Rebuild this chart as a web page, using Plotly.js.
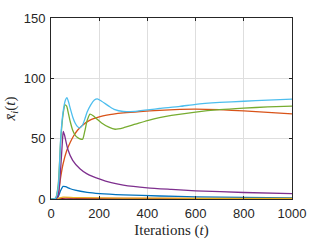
<!DOCTYPE html>
<html><head><meta charset="utf-8">
<script src="https://cdn.plot.ly/plotly-3.0.1.min.js"></script>
<style>html,body{margin:0;padding:0;background:#fff}#plot{width:320px;height:241px}</style>
</head><body><div id="plot"></div>
<script>
var tBlue = [0, 20, 30, 40, 50, 60, 80, 100, 150, 203, 300, 452, 600, 800, 1000];
var yBlue = [0, 0, 2, 7, 10.5, 10.2, 8.5, 7.3, 5.5, 4.5, 3.5, 2.5, 1.8, 1.3, 1.0];

var tOrange = [0, 10, 20, 30, 40, 50, 65, 80, 93, 110, 130, 162, 200, 231, 300, 369, 450, 535, 600, 700, 800, 900, 1000];
var yOrange = [0, 0, 0.5, 4, 18, 29, 40, 47, 52, 57, 61, 65.3, 68, 69.5, 71.3, 72.5, 73.5, 74.3, 74.5, 74, 73, 71.8, 70.6];

var tYellow = [0, 30, 50, 100, 300, 600, 1000];
var yYellow = [0, 0.5, 1.5, 1.2, 0.8, 0.6, 0.4];

var tPurple = [0, 20, 30, 40, 48, 51, 56, 70, 90, 120, 148, 203, 250, 300, 400, 500, 600, 800, 1000];
var yPurple = [0, 0, 3, 25, 50, 56, 53, 41, 32, 25, 21, 16.4, 13.5, 11.5, 9.3, 8, 6.8, 5.4, 4.5];

var tGreen = [0, 10, 20, 30, 40, 50, 58, 65, 70, 80, 90, 100, 110, 120, 131, 140, 150, 162, 175, 192, 210, 240, 266, 300, 350, 400, 450, 500, 600, 700, 800, 900, 1000];
var yGreen = [0, 0, 1, 12, 48, 70, 78, 77, 73, 64, 57, 53, 51, 49.8, 49.5, 56, 65, 70.3, 69, 66, 63, 59.5, 57.8, 59, 62, 65, 67.5, 69.3, 72, 74, 75.3, 76.3, 77];

var tCyan = [0, 10, 20, 30, 41, 50, 60, 66, 72, 80, 90, 100, 110, 118, 130, 140, 150, 165, 180, 192, 210, 240, 265, 300, 350, 411, 450, 535, 600, 700, 800, 900, 1000];
var yCyan = [0, 0, 1, 10, 53, 72, 82, 84, 81, 75, 68, 63, 60, 59, 61, 66, 72, 78, 82, 83, 81, 77, 74, 72.5, 72.7, 74, 75, 76.7, 78.5, 80, 81, 82, 82.8];

var tRed = [0, 40, 60, 200, 1000];
var yRed = [0, 0.5, 0.8, 0.4, 0.2];

var xTicks = [0, 200, 400, 600, 800, 1000];
var yTicks = [0, 50, 100, 150];

function tr(x, y, c) {
  return {x: x, y: y, type: 'scatter', mode: 'lines',
    line: {color: c, width: 1.3, shape: 'spline', smoothing: 0.6}, hoverinfo: 'none'};
}
var data = [
  tr(tRed, yRed, '#A2142F'),
  tr(tBlue, yBlue, '#0072BD'),
  tr(tOrange, yOrange, '#D95319'),
  tr(tYellow, yYellow, '#EDB120'),
  tr(tPurple, yPurple, '#7E2F8E'),
  tr(tGreen, yGreen, '#77AC30'),
  tr(tCyan, yCyan, '#4DBEEE')
];
var sans = "'Liberation Sans', Arial, sans-serif";
var serif = "'Liberation Serif', 'DejaVu Serif', serif";
var ax = {
  showline: true, linecolor: '#262626', linewidth: 1, mirror: 'ticks',
  ticks: 'inside', ticklen: 3, tickcolor: '#262626',
  showgrid: true, gridcolor: '#dedede', gridwidth: 1, zeroline: false,
  tickfont: {family: sans, size: 13, color: '#262626'}
};
var layout = {
  width: 320, height: 241,
  margin: {l: 51, r: 28, t: 18, b: 42},
  paper_bgcolor: '#fff', plot_bgcolor: '#fff',
  showlegend: false,
  xaxis: Object.assign({}, ax, {range: [0, 1000], tickvals: xTicks, ticktext: xTicks.map(String),
    ticklabelstandoff: 2,
    title: {text: 'Iterations (<i>t</i>)', font: {family: serif, size: 15, color: '#262626'}, standoff: 4}}),
  yaxis: Object.assign({}, ax, {range: [0, 150], tickvals: yTicks, ticktext: yTicks.map(String),
    ticklabelstandoff: 2,
    title: {text: '<i>x̄</i><sub><i>i</i></sub>(<i>t</i>)', font: {family: serif, size: 15, color: '#262626'}, standoff: 4}})
};
Plotly.newPlot('plot', data, layout, {staticPlot: true, displayModeBar: false});
</script></body></html>
